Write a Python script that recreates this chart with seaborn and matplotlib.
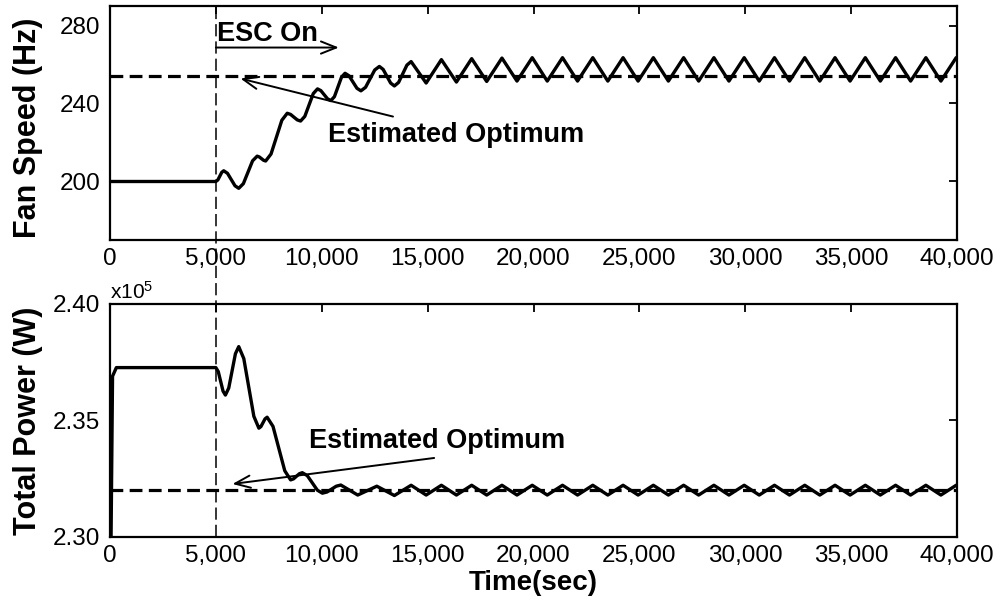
import matplotlib
matplotlib.use("Agg")
import matplotlib.pyplot as plt
import seaborn as sns
import pandas as pd
from matplotlib.ticker import FuncFormatter, FixedLocator
from matplotlib.lines import Line2D
from matplotlib.transforms import blended_transform_factory

# ---------------- data ----------------
fan_time = [0, 5000, 5093, 5278, 5370, 5548, 5903, 6080, 6298, 6733, 6950, 7050, 7250,
            7350, 7605, 8115, 8370, 8528, 8843, 9000, 9200, 9600, 9800, 9958, 10273,
            10430, 10598, 10933, 11100, 11288, 11663, 11850, 12068, 12503, 12720,
            12898, 13253, 13430, 13628, 14023, 14220, 14930, 15650, 16360, 17080,
            17790, 18510, 19220, 19940, 20650, 21370, 22080, 22800, 23510, 24230,
            24940, 25660, 26370, 27090, 27800, 28520, 29230, 29950, 30660, 31380,
            32090, 32810, 33520, 34240, 34950, 35670, 36380, 37100, 37810, 38530,
            39240, 39960, 40000]
fan_speed = [200, 200, 200.8, 204.7, 205.5, 204.2, 197.8, 196.5, 198.9, 210.6, 213,
             212.6, 210.9, 210.5, 214.1, 231.4, 235, 234.4, 231.6, 231, 233.4, 245.1,
             247.5, 246.6, 242.4, 241.5, 243.5, 253.5, 255.5, 254.2, 247.8, 246.5,
             248.3, 257.2, 259, 257.5, 250.5, 249, 250.8, 259.7, 261.5, 250.5, 262.5,
             251, 263, 251.3, 263.3, 251.5, 263.5, 251.5, 263.5, 251.5, 263.5, 251.5,
             263.5, 251.5, 263.5, 251.5, 263.5, 251.5, 263.5, 251.5, 263.5, 251.5,
             263.5, 251.5, 263.5, 251.5, 263.5, 251.5, 263.5, 251.5, 263.5, 251.5,
             263.5, 251.5, 263.5, 263.2]

power_time = [0, 120, 300, 5000, 5113, 5338, 5450, 5608, 5923, 6080, 6318, 6793, 7030,
              7128, 7323, 7420, 7698, 8253, 8530, 8668, 8943, 9080, 9318, 9793, 10030,
              10248, 10683, 10900, 11700, 12600, 13430, 14220, 14930, 15650, 16360,
              17080, 17790, 18510, 19220, 19940, 20650, 21370, 22080, 22800, 23510,
              24230, 24940, 25660, 26370, 27090, 27800, 28520, 29230, 29950, 30660,
              31380, 32090, 32810, 33520, 34240, 34950, 35670, 36380, 37100, 37810,
              38530, 39240, 39960, 40000]
total_power = [225000, 236900, 237270, 237270, 237098, 236262, 236090, 236394, 237866,
               238170, 237659, 235181, 234670, 234739, 235071, 235140, 234747, 232843,
               232450, 232495, 232715, 232760, 232632, 232008, 231880, 231931, 232179,
               232230, 231800, 232180, 231780, 232220, 231800, 232220, 231800, 232220,
               231800, 232220, 231800, 232220, 231800, 232220, 231800, 232220, 231800,
               232220, 231800, 232220, 231800, 232220, 231800, 232220, 231800, 232220,
               231800, 232220, 231800, 232220, 231800, 232220, 231800, 232220, 231800,
               232220, 231800, 232220, 231800, 232220, 232200]

fan_optimum = 254
power_optimum = 232000
esc_on_time = 5000
x_ticks = [0, 5000, 10000, 15000, 20000, 25000, 30000, 35000, 40000]
fan_ticks = [200, 240, 280]
power_ticks = [230000, 235000, 240000]

# ---------------- style ----------------
sns.set_theme(style="white")
plt.rcParams['font.family'] = ['Liberation Sans', 'DejaVu Sans']
plt.rcParams['mathtext.default'] = 'regular'
plt.rcParams['text.color'] = 'black'
plt.rcParams['axes.labelcolor'] = 'black'
plt.rcParams['xtick.color'] = 'black'
plt.rcParams['ytick.color'] = 'black'

fig = plt.figure(figsize=(10, 6.13), dpi=100)
ax1 = fig.add_axes([0.110, 0.6085, 0.847, 0.3817])
ax2 = fig.add_axes([0.110, 0.1240, 0.847, 0.3801])

fan_df = pd.DataFrame({"time": fan_time, "speed": fan_speed})
pow_df = pd.DataFrame({"time": power_time, "power": total_power})

sns.lineplot(data=fan_df, x="time", y="speed", ax=ax1, color="black", lw=2.4,
             sort=False, estimator=None, solid_joinstyle="round", solid_capstyle="round")
sns.lineplot(data=pow_df, x="time", y="power", ax=ax2, color="black", lw=2.4,
             sort=False, estimator=None, solid_joinstyle="round", solid_capstyle="round")

ax1.axhline(fan_optimum, color="black", lw=2.3, ls=(0, (4, 2)), zorder=1)
ax2.axhline(power_optimum, color="black", lw=2.3, ls=(0, (4, 2)), zorder=1)

comma_fmt = FuncFormatter(lambda v, p: f"{v:,.0f}")
for ax in (ax1, ax2):
    ax.set_xlim(0, 40000)
    ax.xaxis.set_major_locator(FixedLocator(x_ticks))
    ax.xaxis.set_major_formatter(comma_fmt)
    ax.tick_params(direction="in", length=6, width=1.3, top=True, right=True,
                   labelsize=17.5, colors="black")
    ax.tick_params(axis="x", pad=6)
    ax.tick_params(axis="y", pad=7)
    for s in ax.spines.values():
        s.set_color("black")
        s.set_linewidth(1.6)
    ax.set_xlabel("")
    ax.set_ylabel("")

ax1.set_ylim(170, 290)
ax1.yaxis.set_major_locator(FixedLocator(fan_ticks))
ax2.set_ylim(230000, 240000)
ax2.yaxis.set_major_locator(FixedLocator(power_ticks))
ax2.yaxis.set_major_formatter(FuncFormatter(lambda v, p: f"{v / 1e5:.2f}"))

ax1.set_ylabel("Fan Speed (Hz)", fontsize=22, fontweight="bold", color="black")
ax2.set_ylabel("Total Power (W)", fontsize=22, fontweight="bold", color="black")
ax1.yaxis.set_label_coords(-0.079, 0.48)
ax2.yaxis.set_label_coords(-0.079, 0.50)
ax2.set_xlabel("Time(sec)", fontsize=20, fontweight="bold", labelpad=2, color="black")

ax2.text(0.0, 1.005, r"x10$^5$", transform=ax2.transAxes, ha="left", va="bottom",
         fontsize=15, color="black")

# vertical ESC-on marker spanning both panels
trans = blended_transform_factory(ax1.transData, fig.transFigure)
fig.add_artist(Line2D([esc_on_time, esc_on_time], [1 - 537 / 613, 1 - 6 / 613],
                      transform=trans, color="black", lw=1.1, ls=(0, (8, 3.3))))

arrow_kw = dict(arrowstyle="->,head_length=0.55,head_width=0.22", lw=1.4,
                color="black", shrinkA=0, shrinkB=0, mutation_scale=20)

ax1.annotate("", xy=(10806, 268.7), xytext=(5000, 268.7), arrowprops=arrow_kw)
ax1.text(5060, 271.8, "ESC On", fontsize=19.5, fontweight="bold", ha="left",
         va="baseline", color="black")
ax1.annotate("", xy=(6161, 252.8), xytext=(13365, 233.3), arrowprops=arrow_kw)
ax1.text(10284, 220.5, "Estimated Optimum", fontsize=19.5, fontweight="bold",
         ha="left", va="baseline", color="black")

ax2.annotate("", xy=(5782, 232275), xytext=(15308, 233391), arrowprops=arrow_kw)
ax2.text(9384, 233820, "Estimated Optimum", fontsize=19.5, fontweight="bold",
         ha="left", va="baseline", color="black")

fig.savefig("out.png", dpi=100)
